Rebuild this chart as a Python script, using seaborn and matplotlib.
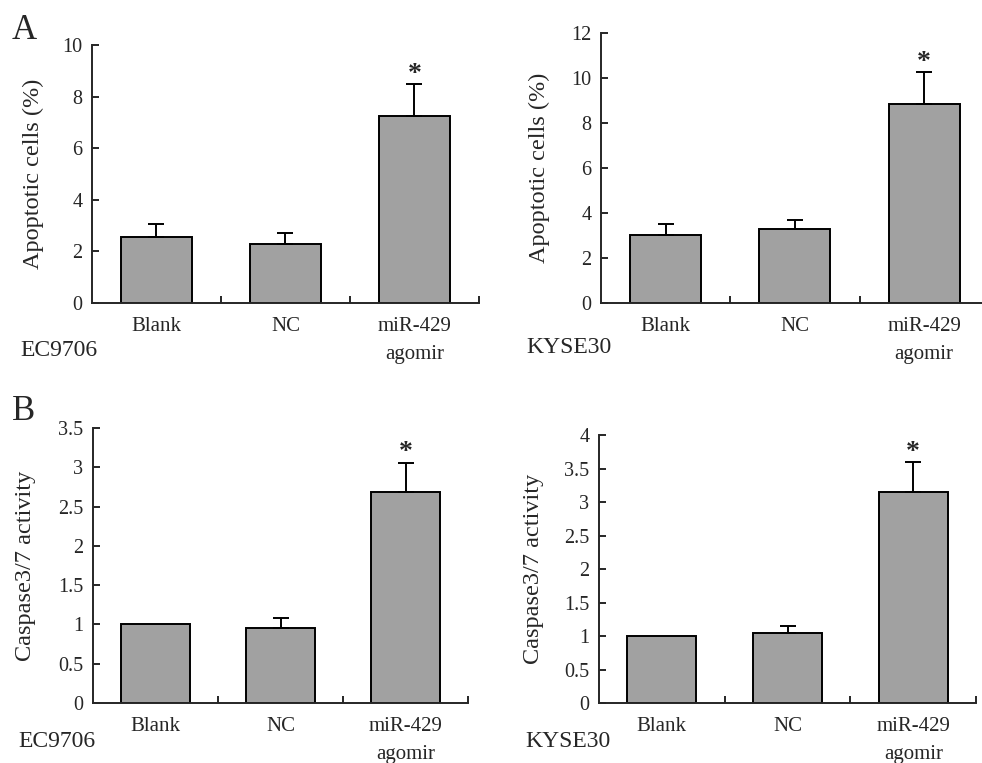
import numpy as np
import pandas as pd
import matplotlib
matplotlib.use("Agg")
import matplotlib.pyplot as plt
import matplotlib.ticker as mticker
import seaborn as sns

# dati
gruppi = ["Blank", "NC", "miR-429\nagomir"]

ec9706_apoptosi = [2.55, 2.27, 7.26]
ec9706_apoptosi_err = [0.52, 0.44, 1.23]
kyse30_apoptosi = [3.04, 3.29, 8.86]
kyse30_apoptosi_err = [0.49, 0.41, 1.41]

ec9706_caspasi = [1.0, 0.96, 2.68]
ec9706_caspasi_err = [0.0, 0.12, 0.38]
kyse30_caspasi = [1.0, 1.04, 3.15]
kyse30_caspasi_err = [0.0, 0.11, 0.45]

significativo = [False, False, True]

sns.set_style("ticks")
plt.rcParams["font.family"] = ["Liberation Serif", "DejaVu Serif"]
plt.rcParams["axes.linewidth"] = 1.4

fig = plt.figure(figsize=(9.82, 7.63), dpi=100)

pannelli = [
    # (posizione assi, valori, errori, ymax, passo, ylabel, labelpad, linea cellulare, posizione etichetta)
    ([0.0937, 0.6029, 0.394, 0.338], ec9706_apoptosi, ec9706_apoptosi_err, 10, 2,
     "Apoptotic cells (%)", 13, "EC9706", (0.021, 0.541)),
    ([0.612, 0.6029, 0.395, 0.354], kyse30_apoptosi, kyse30_apoptosi_err, 12, 2,
     "Apoptotic cells (%)", 15, "KYSE30", (0.536, 0.544)),
    ([0.0947, 0.0786, 0.382, 0.3605], ec9706_caspasi, ec9706_caspasi_err, 3.5, 0.5,
     "Caspase3/7 activity", 16, "EC9706", (0.019, 0.028)),
    ([0.61, 0.0786, 0.384, 0.351], kyse30_caspasi, kyse30_caspasi_err, 4, 0.5,
     "Caspase3/7 activity", 14.5, "KYSE30", (0.535, 0.028)),
]

for pos, valori, errori, ymax, passo, ylabel, lpad, linea, pos_lab in pannelli:
    ax = fig.add_axes(pos)
    df = pd.DataFrame({"Gruppo": gruppi, "Valore": valori})
    sns.barplot(data=df, x="Gruppo", y="Valore", color="#a1a1a1", saturation=1,
                edgecolor="black", linewidth=1.4, width=0.55, ax=ax)

    # barre di errore solo verso l'alto
    xs = np.arange(len(gruppi))
    err = np.array(errori)
    mask = err > 0
    ax.errorbar(xs[mask], np.array(valori)[mask],
                yerr=[np.zeros(mask.sum()), err[mask]],
                fmt="none", ecolor="black", elinewidth=1.4, capsize=5.5, capthick=1.4)

    for x, v, e, s in zip(xs, valori, errori, significativo):
        if s:
            ax.annotate("*", (x, v + e), xytext=(0, -2), textcoords="offset points",
                        ha="center", va="bottom", fontsize=20, fontweight="bold")

    ax.set_xlim(-0.5, 2.5)
    ax.set_ylim(0, ymax)
    ax.yaxis.set_major_locator(mticker.MultipleLocator(passo))
    ax.yaxis.set_major_formatter(mticker.FormatStrFormatter("%g"))
    ax.xaxis.set_minor_locator(mticker.FixedLocator([0.5, 1.5, 2.5]))
    ax.tick_params(axis="y", direction="in", length=5, width=1.4, labelsize=14.5, pad=7)
    ax.tick_params(axis="x", which="major", length=0, labelsize=15, pad=10)
    ax.tick_params(axis="x", which="minor", direction="in", length=5, width=1.4)
    for lab in ax.get_xticklabels():
        lab.set_linespacing(1.65)
    sns.despine(ax=ax)
    ax.set_xlabel("")
    ax.set_ylabel(ylabel, fontsize=17.5, labelpad=lpad)

    # nome della linea cellulare sotto l'asse
    fig.text(pos_lab[0], pos_lab[1], linea, fontsize=17, ha="left", va="center")

fig.text(0.012, 0.96, "A", fontsize=25, ha="left", va="center")
fig.text(0.012, 0.461, "B", fontsize=25, ha="left", va="center")

fig.savefig("out.png", dpi=100)
